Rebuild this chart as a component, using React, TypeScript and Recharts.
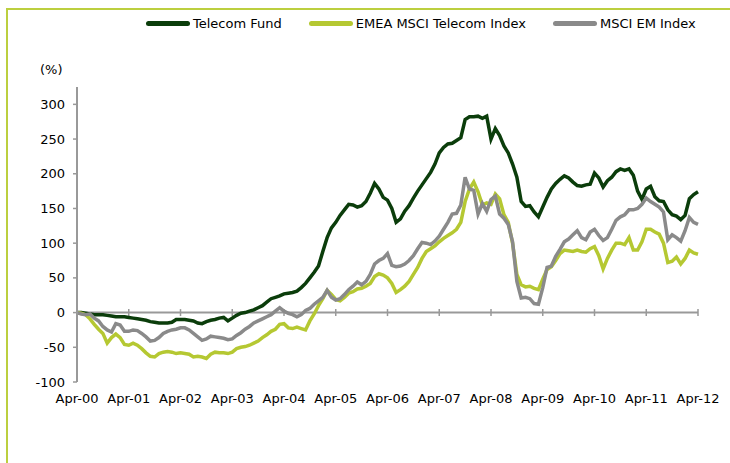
import { LineChart, Line, XAxis, YAxis, ReferenceLine } from 'recharts';

// x-axis labels, one per April (monthly data, index 0 = Apr-00)
const tickLabels = [
  'Apr-00', 'Apr-01', 'Apr-02', 'Apr-03', 'Apr-04', 'Apr-05', 'Apr-06',
  'Apr-07', 'Apr-08', 'Apr-09', 'Apr-10', 'Apr-11', 'Apr-12',
];

const yTicks = [-100, -50, 0, 50, 100, 150, 200, 250, 300];

// cumulative performance, %
const telecomFund = [
  0, 0, -1, -2, -3, -3, -3, -4, -5, -6, -6, -6,
  -7, -8, -9, -10, -11, -13, -14, -15, -15, -15, -14, -10,
  -10, -10, -11, -12, -15, -16, -13, -11, -10, -8, -7, -12,
  -8, -4, -1, 0, 2, 4, 7, 10, 15, 20, 22, 24,
  27, 28, 29, 31, 36, 42, 50, 58, 67, 88, 108, 122,
  130, 140, 148, 156, 155, 152, 154, 160, 172, 186, 178, 166,
  162, 150, 130, 135, 146, 154, 165, 175, 184, 193, 202, 214,
  230, 238, 243, 244, 248, 252, 278, 282, 282, 283, 280, 283,
  250, 265, 255, 240, 230, 214, 195, 160, 153, 154, 145, 138,
  152, 166, 178, 186, 192, 197, 194, 188, 183, 182, 184, 185,
  201, 194, 181, 190, 195, 203, 207, 205, 207, 198, 175, 163,
  178, 182, 167, 161, 160, 148, 141, 139, 134, 140, 164, 170, 174,
];

const emeaTelecom = [
  0, -1, -3, -9, -17, -24, -30, -44, -36, -31, -36, -46,
  -47, -44, -47, -52, -58, -63, -64, -59, -57, -56, -57, -59,
  -58, -59, -60, -64, -63, -64, -66, -60, -57, -58, -58, -59,
  -57, -52, -50, -49, -47, -44, -41, -36, -32, -27, -24, -17,
  -16, -22, -23, -21, -23, -25, -12, -2, 10, 20, 32, 26,
  19, 17, 22, 28, 30, 34, 35, 38, 42, 52, 56, 54,
  50, 42, 29, 33, 38, 45, 55, 65, 78, 88, 92, 96,
  102, 107, 111, 115, 120, 130, 160, 178, 188, 174, 155, 158,
  156, 171, 164, 141, 130, 100, 55, 40, 37, 38, 35, 33,
  48, 62, 66, 75, 85, 90, 89, 88, 90, 88, 87, 92,
  95, 82, 63, 78, 90, 100, 100, 98, 108, 90, 90, 102,
  120, 120, 116, 113, 100, 72, 74, 80, 70, 78, 90, 86, 84,
];

const msciEm = [
  0, -2, -3, -2, -8, -12, -20, -25, -28, -16, -18, -27,
  -27, -25, -26, -30, -35, -41, -40, -36, -30, -27, -25, -24,
  -22, -22, -25, -30, -35, -40, -38, -34, -35, -36, -37, -39,
  -38, -33, -29, -24, -20, -15, -12, -9, -6, -3, 2, 7,
  2, -1, -3, -6, -3, 3, 6, 12, 17, 22, 32, 22,
  18, 20, 26, 33, 38, 44, 40, 45, 55, 70, 75, 78,
  85, 68, 66, 67, 70, 75, 82, 92, 101, 100, 98, 103,
  110, 120, 130, 142, 143, 155, 195, 178, 176, 142, 157, 146,
  163, 168, 142, 136, 127, 102, 45, 21, 22, 20, 13, 12,
  36, 65, 67, 81, 91, 102, 106, 112, 118, 108, 105, 116,
  120, 111, 104, 108, 120, 133, 138, 141, 148, 148, 150, 156,
  165, 160, 156, 152, 145, 105, 112, 108, 103, 118, 137, 130, 127,
];

const data = telecomFund.map((v, i) => ({
  m: i,
  fund: v,
  emea: emeaTelecom[i],
  em: msciEm[i],
}));

const xTicks = tickLabels.map((_, i) => i * 12);

const FONT = '"DejaVu Sans", sans-serif';
const AXIS = '#999999';

const series = [
  { key: 'fund', name: 'Telecom Fund', color: '#0b3d0b' },
  { key: 'emea', name: 'EMEA MSCI Telecom Index', color: '#b5c832' },
  { key: 'em', name: 'MSCI EM Index', color: '#8a8a8a' },
];

function LegendRow() {
  return (
    <div
      style={{
        position: 'absolute',
        left: 146,
        top: 16,
        display: 'flex',
        alignItems: 'center',
        fontFamily: FONT,
        fontSize: 13,
        color: '#000',
        whiteSpace: 'nowrap',
      }}
    >
      {series.map((s) => (
        <div key={s.key} style={{ display: 'flex', alignItems: 'center', marginRight: 27 }}>
          <span
            style={{
              display: 'inline-block',
              width: 44,
              height: 5,
              borderRadius: 3,
              background: s.color,
              marginRight: 3,
            }}
          />
          <span>{s.name}</span>
        </div>
      ))}
    </div>
  );
}

export default function App() {
  return (
    <div
      style={{
        position: 'absolute',
        left: 0,
        top: 0,
        width: 730,
        height: 463,
        overflow: 'hidden',
        background: '#fff',
      }}
    >
      <div
        style={{
          position: 'absolute',
          left: 6,
          top: 8,
          width: 760,
          height: 500,
          borderLeft: '2px solid #bccf3f',
          borderTop: '2px solid #bccf3f',
        }}
      />
      <LegendRow />
      <div
        style={{
          position: 'absolute',
          left: 40,
          top: 62,
          fontFamily: FONT,
          fontSize: 13,
          color: '#000',
        }}
      >
        (%)
      </div>
      <LineChart
        width={730}
        height={463}
        data={data}
        margin={{ top: 87, right: 32, bottom: 51, left: 0 }}
      >
        <XAxis
          dataKey="m"
          type="number"
          domain={[0, 144]}
          ticks={xTicks}
          interval={0}
          tickFormatter={(v) => tickLabels[v / 12]}
          axisLine={false}
          tickLine={false}
          tickMargin={6}
          height={30}
          tick={{ fill: '#000', fontSize: 13, fontFamily: FONT }}
        />
        <YAxis
          domain={[-100, 325]}
          ticks={yTicks}
          width={77}
          axisLine={{ stroke: AXIS, strokeWidth: 2 }}
          tickLine={{ stroke: AXIS, strokeWidth: 1.5 }}
          tickSize={4}
          tickMargin={8}
          tick={{ fill: '#000', fontSize: 13, fontFamily: FONT }}
        />
        <ReferenceLine y={0} stroke={AXIS} strokeWidth={2} />
        {xTicks.slice(1).map((x) => (
          <ReferenceLine
            key={x}
            segment={[
              { x, y: -5 },
              { x, y: 5 },
            ]}
            stroke={AXIS}
            strokeWidth={1.5}
          />
        ))}
        {series.map((s) => (
          <Line
            key={s.key}
            type="linear"
            dataKey={s.key}
            name={s.name}
            stroke={s.color}
            strokeWidth={3.5}
            dot={false}
            isAnimationActive={false}
          />
        ))}
      </LineChart>
    </div>
  );
}
